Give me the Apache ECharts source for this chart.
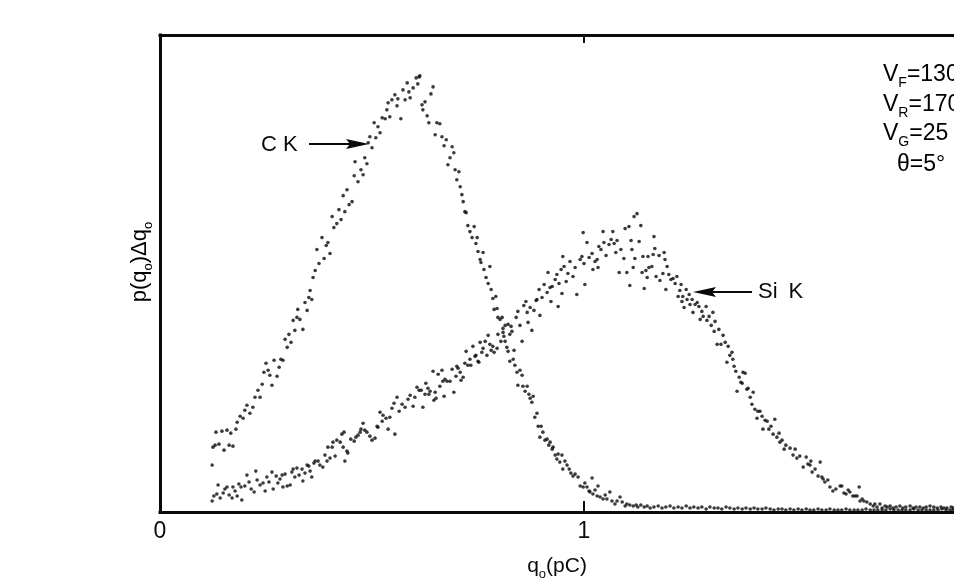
<!DOCTYPE html>
<html><head><meta charset="utf-8">
<script src="https://cdn.jsdelivr.net/npm/echarts@6/dist/echarts.min.js"></script>
<style>html,body{margin:0;padding:0;background:#fff}#c{width:954px;height:586px}</style>
</head><body><div id="c"></div>
<script>
// x: q0 in pC, y: p(q0)·Δq0 in arbitrary units (peak ≈ 437)
const xTickValues = [0, 1];
const xTickLabels = ['0', '1'];
const xVisibleMax = 1.8726;   // the frame runs past the right edge of the picture
const ckPoints = [
[0.123,47],[0.125,65],[0.130,67],[0.132,80],[0.139,68],[0.146,81],[0.151,62],[0.158,82],[0.163,67],[0.167,79],
[0.172,66],[0.179,83],[0.182,90],[0.189,96],[0.196,94],[0.200,102],[0.205,107],[0.212,99],[0.219,105],[0.224,115],
[0.231,122],[0.236,115],[0.241,128],[0.245,140],[0.250,149],[0.255,142],[0.259,137],[0.264,127],[0.269,152],[0.276,136],
[0.281,145],[0.285,153],[0.290,152],[0.295,173],[0.300,165],[0.304,178],[0.309,170],[0.314,192],[0.318,182],[0.323,195],
[0.325,203],[0.330,193],[0.337,183],[0.342,210],[0.347,202],[0.351,215],[0.354,222],[0.358,213],[0.361,235],[0.366,242],
[0.370,263],[0.375,249],[0.382,275],[0.387,254],[0.392,267],[0.396,270],[0.401,259],[0.406,296],[0.410,285],[0.417,289],
[0.422,303],[0.427,293],[0.432,317],[0.436,301],[0.441,323],[0.446,308],[0.453,311],[0.458,337],[0.460,351],[0.467,331],
[0.474,343],[0.479,338],[0.483,355],[0.488,349],[0.491,370],[0.495,376],[0.500,365],[0.505,390],[0.509,375],[0.514,386],
[0.519,380],[0.524,395],[0.531,394],[0.535,403],[0.538,410],[0.542,396],[0.547,413],[0.554,418],[0.559,407],[0.561,414],
[0.568,394],[0.573,423],[0.578,413],[0.583,430],[0.587,421],[0.590,415],[0.597,425],[0.604,435],[0.608,429],[0.611,436],
[0.613,437],[0.618,408],[0.620,403],[0.625,411],[0.630,397],[0.634,390],[0.639,419],[0.644,426],[0.649,378],[0.653,390],
[0.660,389],[0.665,376],[0.670,367],[0.675,373],[0.679,348],[0.684,355],[0.689,366],[0.693,360],[0.696,343],[0.700,333],
[0.705,341],[0.708,326],[0.712,318],[0.715,311],[0.719,301],[0.722,300],[0.726,287],[0.731,281],[0.736,275],[0.741,286],
[0.745,269],[0.748,275],[0.750,261],[0.755,253],[0.757,250],[0.762,260],[0.764,243],[0.769,235],[0.774,229],[0.778,246],
[0.781,223],[0.785,214],[0.788,203],[0.792,216],[0.795,204],[0.797,195],[0.802,193],[0.807,195],[0.809,184],[0.811,176],
[0.814,171],[0.818,165],[0.821,161],[0.825,151],[0.828,186],[0.833,153],[0.837,147],[0.842,140],[0.844,127],[0.849,142],
[0.854,137],[0.856,126],[0.861,121],[0.866,126],[0.870,118],[0.873,114],[0.877,110],[0.880,116],[0.884,95],[0.889,99],
[0.892,86],[0.896,75],[0.899,86],[0.903,80],[0.908,72],[0.913,73],[0.917,67],[0.920,70],[0.925,63],[0.927,65],
[0.932,57],[0.936,53],[0.939,58],[0.943,50],[0.948,57],[0.950,43],[0.955,51],[0.960,47],[0.965,43],[0.969,39],
[0.974,36],[0.979,38],[0.986,35],[0.991,26],[0.998,25],[1.002,29],[1.007,25],[1.012,21],[1.014,20],[1.019,34],
[1.021,18],[1.026,22],[1.031,16],[1.033,26],[1.038,15],[1.045,13],[1.050,17],[1.054,13],[1.061,20],[1.066,11],
[1.073,8],[1.078,11],[1.085,15],[1.090,10],[1.097,6],[1.101,8],[1.108,7],[1.116,6],[1.123,7],[1.127,5],
[1.134,7],[1.142,5],[1.149,6],[1.156,4],[1.165,5],[1.175,6],[1.184,4],[1.193,5],[1.203,6],[1.212,4],
[1.222,5],[1.231,4],[1.241,6],[1.250,4],[1.259,5],[1.269,4],[1.278,5],[1.288,3],[1.297,5],[1.307,4],
[1.316,4],[1.325,3],[1.335,5],[1.344,4],[1.354,3],[1.363,4],[1.373,3],[1.382,4],[1.392,3],[1.401,4],
[1.410,3],[1.420,3],[1.429,4],[1.439,3],[1.448,2],[1.458,3],[1.467,3],[1.476,2],[1.486,3],[1.495,2],
[1.505,3],[1.514,2],[1.524,3],[1.533,2],[1.542,2],[1.552,3],[1.561,2],[1.571,2],[1.580,3],[1.590,2],
[1.599,2],[1.608,2],[1.618,3],[1.627,2],[1.637,2],[1.646,2],[1.656,2],[1.665,3],[1.675,2],[1.684,2],
[1.693,2],[1.703,2],[1.712,2],[1.722,3],[1.731,2],[1.741,2],[1.750,2],[1.759,2],[1.769,2],[1.778,3],
[1.788,2],[1.797,2],[1.807,2],[1.816,2],[1.825,2],[1.835,2],[1.844,3],[1.854,2],[1.863,2],[1.870,2]
];
const siPoints = [
[0.123,11],[0.127,16],[0.134,18],[0.137,27],[0.142,14],[0.149,19],[0.153,23],[0.158,25],[0.163,17],[0.170,14],
[0.172,25],[0.177,21],[0.182,16],[0.186,28],[0.191,25],[0.193,12],[0.200,26],[0.205,37],[0.210,30],[0.215,23],
[0.222,20],[0.226,41],[0.229,32],[0.236,27],[0.243,29],[0.248,21],[0.252,35],[0.257,30],[0.264,40],[0.267,23],
[0.274,36],[0.278,29],[0.283,33],[0.288,37],[0.290,25],[0.295,38],[0.300,26],[0.307,27],[0.311,40],[0.314,43],
[0.318,35],[0.323,44],[0.328,37],[0.335,43],[0.337,31],[0.342,39],[0.347,47],[0.351,46],[0.354,41],[0.358,35],
[0.363,49],[0.366,51],[0.373,51],[0.377,47],[0.384,45],[0.389,57],[0.394,51],[0.396,65],[0.401,54],[0.406,65],
[0.408,70],[0.413,56],[0.417,72],[0.425,70],[0.429,78],[0.432,65],[0.434,80],[0.436,51],[0.441,61],[0.443,59],
[0.450,73],[0.458,71],[0.462,75],[0.467,77],[0.472,80],[0.474,83],[0.479,89],[0.483,82],[0.488,80],[0.495,76],
[0.500,72],[0.507,74],[0.512,86],[0.514,85],[0.519,100],[0.524,91],[0.526,97],[0.533,94],[0.538,83],[0.542,95],
[0.547,104],[0.552,109],[0.554,78],[0.559,115],[0.564,101],[0.571,108],[0.578,105],[0.585,113],[0.590,117],[0.597,106],
[0.601,115],[0.606,125],[0.611,122],[0.616,122],[0.620,105],[0.625,118],[0.627,129],[0.632,124],[0.634,118],[0.637,121],
[0.644,141],[0.646,112],[0.649,120],[0.651,114],[0.656,138],[0.660,126],[0.665,142],[0.667,131],[0.670,116],[0.672,133],
[0.677,131],[0.684,131],[0.689,143],[0.693,120],[0.698,136],[0.700,146],[0.703,144],[0.708,140],[0.710,132],[0.715,135],
[0.719,149],[0.722,161],[0.726,147],[0.731,153],[0.733,147],[0.738,166],[0.743,156],[0.745,157],[0.750,151],[0.752,150],
[0.755,170],[0.759,160],[0.762,164],[0.767,171],[0.771,157],[0.774,177],[0.778,168],[0.781,162],[0.785,166],[0.788,160],
[0.795,164],[0.797,178],[0.804,171],[0.809,180],[0.814,187],[0.821,188],[0.825,178],[0.830,181],[0.835,162],[0.840,195],
[0.844,201],[0.849,187],[0.854,171],[0.858,207],[0.863,211],[0.866,200],[0.868,190],[0.873,205],[0.877,182],[0.882,202],
[0.887,212],[0.889,213],[0.894,223],[0.896,197],[0.901,215],[0.906,228],[0.913,220],[0.915,240],[0.920,225],[0.922,211],
[0.925,226],[0.932,233],[0.936,238],[0.939,206],[0.941,229],[0.946,243],[0.948,219],[0.950,256],[0.953,246],[0.958,231],
[0.962,239],[0.967,251],[0.974,236],[0.979,245],[0.983,218],[0.991,253],[0.995,256],[0.998,280],[1.000,249],[1.002,228],
[1.007,270],[1.012,255],[1.019,259],[1.021,243],[1.026,251],[1.031,253],[1.033,245],[1.035,266],[1.040,263],[1.045,281],
[1.047,270],[1.052,257],[1.059,268],[1.064,273],[1.068,281],[1.071,269],[1.075,260],[1.078,272],[1.083,240],[1.087,263],
[1.094,254],[1.097,284],[1.101,240],[1.106,286],[1.108,227],[1.111,272],[1.113,263],[1.116,245],[1.118,296],[1.120,254],
[1.125,299],[1.130,271],[1.134,287],[1.137,240],[1.139,256],[1.142,224],[1.146,242],[1.149,235],[1.151,256],[1.153,245],
[1.160,246],[1.163,258],[1.165,276],[1.167,264],[1.170,236],[1.177,257],[1.179,232],[1.186,239],[1.189,260],[1.191,253],
[1.193,223],[1.196,246],[1.200,238],[1.205,233],[1.210,234],[1.215,229],[1.219,236],[1.222,216],[1.226,222],[1.229,228],
[1.231,211],[1.233,216],[1.236,205],[1.241,223],[1.243,213],[1.248,218],[1.250,208],[1.255,213],[1.257,200],[1.262,208],
[1.267,210],[1.271,206],[1.274,193],[1.278,201],[1.281,196],[1.288,206],[1.290,192],[1.295,196],[1.300,187],[1.304,200],
[1.307,181],[1.309,191],[1.314,168],[1.318,183],[1.323,168],[1.328,177],[1.333,170],[1.337,150],[1.340,166],[1.344,157],
[1.349,160],[1.351,153],[1.354,146],[1.358,141],[1.361,121],[1.366,135],[1.370,130],[1.373,129],[1.375,140],[1.380,139],
[1.384,123],[1.387,124],[1.392,115],[1.396,108],[1.399,120],[1.403,103],[1.408,94],[1.410,101],[1.415,101],[1.420,96],
[1.422,83],[1.427,92],[1.432,91],[1.436,83],[1.441,86],[1.446,78],[1.450,93],[1.455,75],[1.460,79],[1.462,70],
[1.467,72],[1.472,63],[1.476,67],[1.486,64],[1.493,57],[1.498,63],[1.502,54],[1.509,56],[1.517,45],[1.524,55],
[1.528,48],[1.533,47],[1.535,51],[1.538,40],[1.545,43],[1.552,36],[1.557,50],[1.561,35],[1.564,33],[1.568,30],
[1.575,32],[1.580,25],[1.587,21],[1.594,23],[1.604,26],[1.608,26],[1.613,19],[1.618,18],[1.623,22],[1.627,20],
[1.634,16],[1.639,16],[1.644,16],[1.649,25],[1.651,11],[1.656,13],[1.660,11],[1.667,10],[1.675,8],[1.682,6],
[1.686,8],[1.691,5],[1.698,8],[1.703,4],[1.710,6],[1.715,5],[1.722,6],[1.729,4],[1.736,5],[1.745,6],
[1.752,4],[1.759,5],[1.769,6],[1.776,4],[1.783,5],[1.792,5],[1.800,4],[1.807,5],[1.816,6],[1.825,5],
[1.833,4],[1.842,5],[1.849,4],[1.856,4],[1.866,5],[1.871,4]
];
const seriesNames = ['C K', 'Si K'];
const paramLines = [
  '{m|V}{s|F}{m|=130}',
  '{m|V}{s|R}{m|=170}',
  '{m|V}{s|G}{m|=25 V}',
  '{m|θ=5°}'
];

const FONT = 'Liberation Sans, Arial, Helvetica, sans-serif';
const INK = '#0a0a0a';
const chart = echarts.init(document.getElementById('c'), null, {renderer: 'canvas'});

const subRich = (size, sub) => ({
  m: {fontSize: size, fontFamily: FONT, color: INK, lineHeight: size + 8},
  s: {fontSize: sub, fontFamily: FONT, color: INK, lineHeight: sub, verticalAlign: 'bottom'}
});

const axLine = {show: true, lineStyle: {color: INK, width: 3, cap: 'square'}};

chart.setOption({
  animation: false,
  backgroundColor: '#fff',
  grid: {left: 160, top: 35, right: 0, bottom: 73, containLabel: false},
  xAxis: [{
    type: 'value', min: 0, max: xVisibleMax, interval: 1, position: 'bottom',
    axisLine: axLine,
    axisTick: {show: true, inside: true, length: 11, customValues: xTickValues, lineStyle: {color: INK, width: 2}},
    axisLabel: {fontSize: 23, fontFamily: FONT, color: INK, margin: 8, customValues: xTickValues,
      formatter: v => { const i = xTickValues.indexOf(v); return i >= 0 ? xTickLabels[i] : ''; }},
    splitLine: {show: false},
    name: '{m|q}{s|o}{m|(pC)}', nameLocation: 'middle', nameGap: 40,
    nameTextStyle: {rich: subRich(21, 13)}
  }, {
    type: 'value', min: 0, max: xVisibleMax, interval: 1, position: 'top',
    axisLine: axLine,
    axisTick: {show: true, inside: true, length: 8, customValues: xTickValues, lineStyle: {color: INK, width: 2}},
    axisLabel: {show: false}, splitLine: {show: false}
  }],
  yAxis: {
    type: 'value', min: 0, max: 478,
    axisLine: axLine, axisTick: {show: false}, axisLabel: {show: false}, splitLine: {show: false}
  },
  series: [{
    name: seriesNames[0], type: 'scatter', data: ckPoints, symbol: 'circle', symbolSize: 3.6,
    itemStyle: {color: INK}, silent: true
  }, {
    name: seriesNames[1], type: 'scatter', data: siPoints, symbol: 'circle', symbolSize: 3.6,
    itemStyle: {color: INK}, silent: true
  }],
  graphic: [
    {type: 'text', x: 140, y: 262, rotation: Math.PI / 2,
      style: {text: '{m|p(q}{s|o}{m|)Δq}{s|o}', rich: subRich(22, 13), align: 'center', verticalAlign: 'middle'}},
    {type: 'text', x: 261, y: 145, style: {text: seriesNames[0], font: '22px ' + FONT, fill: INK, verticalAlign: 'middle'}},
    {type: 'line', shape: {x1: 309, y1: 144, x2: 354, y2: 144}, style: {stroke: INK, lineWidth: 2}},
    {type: 'polygon', shape: {points: [[369, 144], [346, 139], [350, 144], [346, 149]]}, style: {fill: INK}},
    {type: 'text', x: 758, y: 292, style: {text: 'Si\u2002K', font: '22px ' + FONT, fill: INK, verticalAlign: 'middle'}},
    {type: 'line', shape: {x1: 708, y1: 292, x2: 752, y2: 292}, style: {stroke: INK, lineWidth: 2}},
    {type: 'polygon', shape: {points: [[693, 292], [716, 287], [712, 292], [716, 297]]}, style: {fill: INK}},
    {type: 'text', x: 883, y: 75, style: {text: paramLines[0], rich: subRich(23, 14), verticalAlign: 'middle'}},
    {type: 'text', x: 883, y: 105, style: {text: paramLines[1], rich: subRich(23, 14), verticalAlign: 'middle'}},
    {type: 'text', x: 883, y: 134, style: {text: paramLines[2], rich: subRich(23, 14), verticalAlign: 'middle'}},
    {type: 'text', x: 897, y: 165, style: {text: paramLines[3], rich: subRich(23, 14), verticalAlign: 'middle'}}
  ]
});
</script></body></html>
